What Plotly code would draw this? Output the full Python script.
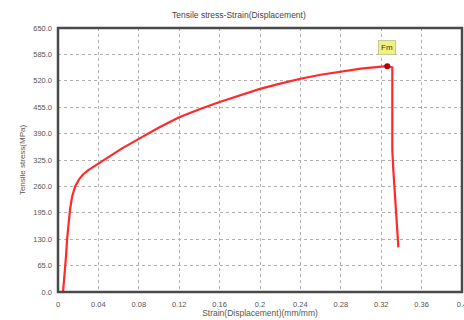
import plotly.graph_objects as go

strain = [0.005, 0.0065, 0.008, 0.009, 0.0105, 0.012, 0.014, 0.017, 0.021, 0.025, 0.03,
          0.04, 0.05, 0.063, 0.08, 0.1, 0.12, 0.14, 0.16, 0.18, 0.2, 0.22, 0.24, 0.26,
          0.28, 0.3, 0.32, 0.326, 0.331, 0.331, 0.332, 0.334, 0.336, 0.337]
stress = [0, 40, 90, 130, 170, 205, 235, 260, 278, 290, 300,
          316, 333, 353, 377, 405, 430, 450, 468, 484, 500, 513, 525, 535,
          543, 550, 555, 556, 553, 350, 300, 230, 160, 110]

fm_strain = [0.326]
fm_stress = [556]
fm_label = "Fm"

y_ticks = [0, 65, 130, 195, 260, 325, 390, 455, 520, 585, 650]
x_ticks = [0, 0.04, 0.08, 0.12, 0.16, 0.2, 0.24, 0.28, 0.32, 0.36, 0.4]

font = "Liberation Sans, Arial, sans-serif"

fig = go.Figure()
fig.add_trace(go.Scatter(x=strain, y=stress, mode="lines",
                         line=dict(color="#ff2a2a", width=2.2), hoverinfo="skip"))
fig.add_trace(go.Scatter(x=fm_strain, y=fm_stress, mode="markers",
                         marker=dict(color="#b00000", size=6), hoverinfo="skip"))
fig.add_annotation(x=fm_strain[0], y=601, text=fm_label, showarrow=False,
                   bgcolor="#f2f27a", bordercolor="#c8c8a0", borderwidth=1, borderpad=2,
                   font=dict(size=8, color="#333", family=font))

# plot frame
fig.add_shape(type="rect", xref="paper", yref="paper", x0=0, x1=1, y0=0, y1=1,
              line=dict(color="#4a4a4a", width=2.5), layer="above")

fig.update_layout(
    width=464, height=320,
    margin=dict(l=58, r=2, t=28, b=28, autoexpand=False),
    paper_bgcolor="white", plot_bgcolor="white",
    showlegend=False,
    title=dict(text="Tensile stress-Strain(Displacement)", x=0.515, xanchor="center",
               y=0.953, yanchor="middle", font=dict(size=8.5, color="#444", family=font)),
    font=dict(family=font, size=7.5, color="#555"),
)
fig.update_xaxes(range=[0, 0.4], tickvals=x_ticks, ticktext=[f"{v:g}" for v in x_ticks],
                 showgrid=True, gridcolor="#b0b0b0", griddash="dot", gridwidth=1,
                 showline=False, zeroline=False, ticks="", ticklabelstandoff=6,
                 ticklabeloverflow="allow", automargin=False,
                 title=dict(text="Strain(Displacement)(mm/mm)", standoff=2,
                            font=dict(size=8.5, color="#555")))
fig.update_yaxes(range=[0, 650], tickvals=y_ticks, ticktext=[f"{v:.1f}" for v in y_ticks],
                 showgrid=True, gridcolor="#b0b0b0", griddash="dot", gridwidth=1,
                 showline=False, zeroline=False, ticks="", ticklabelstandoff=5,
                 ticklabeloverflow="allow", automargin=False,
                 title=dict(text="Tensile stress(MPa)", standoff=6,
                            font=dict(size=8, color="#555")))

fig.write_html("out.html", config={"displayModeBar": False},
               post_script="document.body.style.margin='0';document.body.style.overflow='hidden';")
